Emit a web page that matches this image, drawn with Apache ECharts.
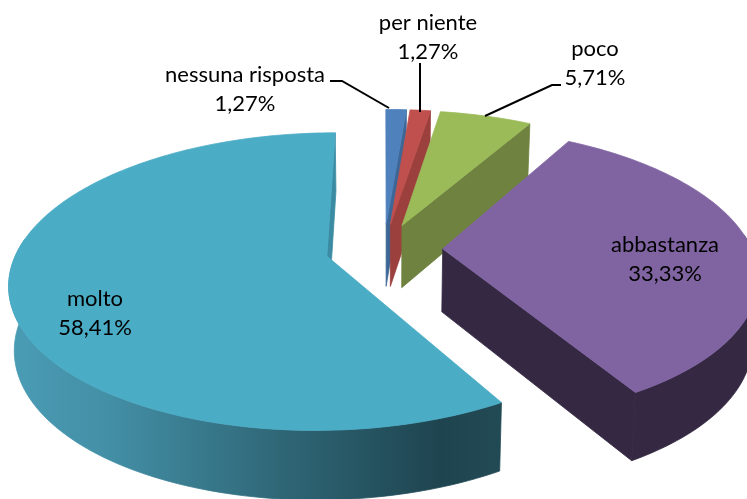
<!DOCTYPE html>
<html><head><meta charset="utf-8">
<style>html,body{margin:0;padding:0;background:#fff}#c{width:747px;height:499px}</style>
<script src="https://cdn.jsdelivr.net/npm/echarts@6/dist/echarts.min.js"></script>
</head><body><div id="c"></div>
<script>
const categories = ['nessuna risposta', 'per niente', 'poco', 'abbastanza', 'molto'];
const values = [1.27, 1.27, 5.71, 33.33, 58.41];
const topColors = ['#4f81bd', '#c0504d', '#9bbb59', '#8064a2', '#4bacc6'];
const faceColors = ['#3d6796', '#9b403d', '#6f8240', '#352842', '#3b8ca3'];
const explosion = [0.18, 0.18, 0.18, 0.19, 0.19];

// view geometry of the tilted pie
const CX = 384, CY = 249, RX = 309, RY = 142, PERSP = 0.17, DEPTH = 63, BOTTOM_SCALE = 0.985;
const labelLayout = [
  {x: 245, y: 89, line: [[389, 108], [342, 81], [330, 81]]},
  {x: 428, y: 37, line: [[420, 112], [420, 63]]},
  {x: 595, y: 63, line: [[485, 116], [552, 85], [561, 85]]},
  {x: 665, y: 259},
  {x: 95, y: 313}
];
const total = values.reduce((a, b) => a + b, 0);

function proj(X, Y, low) {
  const k = 1 / (1 - PERSP * Y);
  let x = CX + X * RX * k, y = CY + Y * RY * k;
  if (low) { x = CX + (x - CX) * BOTTOM_SCALE; y += DEPTH * Math.sqrt(k); }
  return [x, y];
}
function fmt(v) { return v.toFixed(2).replace('.', ',') + '%'; }

function renderItem(params, api) {
  const i = params.dataIndex;
  let before = 0;
  for (let j = 0; j < i; j++) before += values[j];
  const a0 = before / total * 2 * Math.PI;
  const a1 = (before + api.value(0)) / total * 2 * Math.PI;
  const mid = (a0 + a1) / 2;
  const ox = Math.sin(mid) * explosion[i], oy = -Math.cos(mid) * explosion[i];
  const sample = (low, from, to) => {
    const pts = [];
    const n = Math.max(6, Math.ceil((to - from) * 40));
    for (let s = 0; s <= n; s++) {
      const a = from + (to - from) * s / n;
      pts.push(proj(ox + Math.sin(a), oy - Math.cos(a), low));
    }
    return pts;
  };
  const topRim = sample(false, a0, a1);
  const apex = proj(ox, oy, false), apexLow = proj(ox, oy, true);
  const endLow = proj(ox + Math.sin(a1), oy - Math.cos(a1), true);
  const children = [];
  const faceFill = faceColors[i];
  const solid = (points, fill) => ({type: 'polygon', silent: true, shape: {points},
    style: {fill, stroke: fill, lineWidth: 0.8}});
  // radial face at the slice's end edge
  children.push(solid([apex, topRim[topRim.length - 1], endLow, apexLow], faceFill));
  // outer wall: only the part that faces the viewer
  const limit = Math.PI * 1.5 + 0.12;
  const hi = Math.min(a1, limit);
  const frontLo = Math.max(a0, Math.PI / 2 - 0.1);
  if (hi > frontLo) {
    let wallFill = faceFill;
    if (i === values.length - 1) {
      wallFill = new echarts.graphic.LinearGradient(10, 0, 500, 0, [
        {offset: 0, color: '#4a9cb5'},
        {offset: 0.2, color: '#438fa6'},
        {offset: 0.55, color: '#2f6777'},
        {offset: 0.88, color: '#1e444f'},
        {offset: 1, color: '#224a55'}
      ], true);
    }
    const t = sample(false, frontLo, hi), b = sample(true, frontLo, hi);
    children.push(solid(t.concat(b.reverse()), wallFill));
  }
  // top face
  children.push(solid([apex].concat(topRim), topColors[i]));
  // leader line and label
  const L = labelLayout[i];
  if (L.line) children.push({type: 'polyline', silent: true,
    shape: {points: L.line}, style: {fill: null, stroke: '#000', lineWidth: 2}});
  children.push({type: 'text', silent: true, x: L.x, y: L.y,
    style: {text: categories[i] + '\n' + fmt(api.value(0)), fill: '#000',
      font: '22px Lato', lineHeight: 29, align: 'center', verticalAlign: 'middle'}});
  return {type: 'group', children};
}

const chart = echarts.init(document.getElementById('c'), null, {renderer: 'canvas'});
chart.setOption({
  animation: false,
  backgroundColor: '#fff',
  series: [{type: 'custom', coordinateSystem: 'none', renderItem, clip: false,
    data: values.map(v => [v]), encode: {value: 0}, silent: true}]
});
</script></body></html>
